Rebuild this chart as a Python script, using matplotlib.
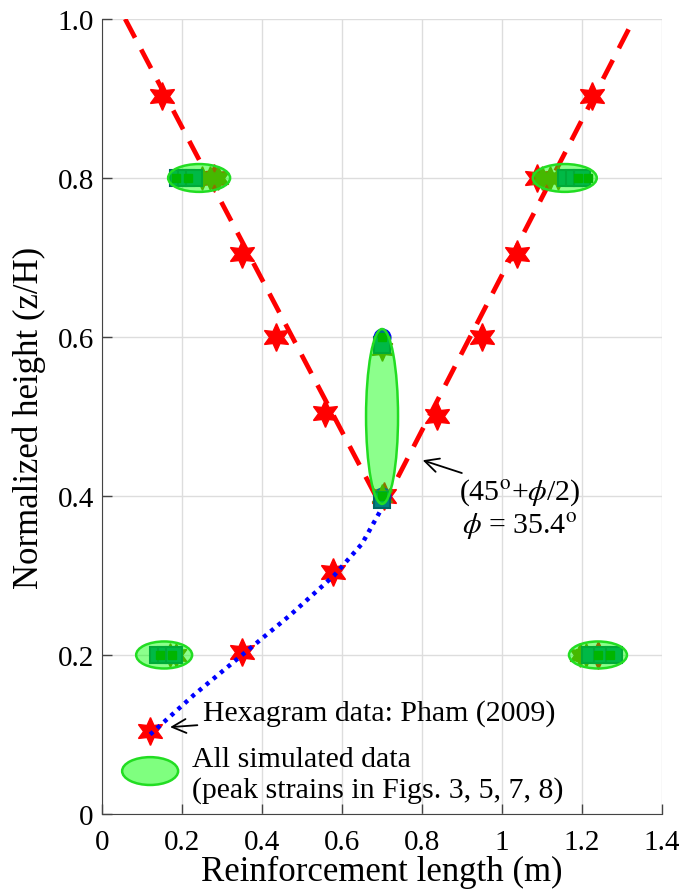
import matplotlib
matplotlib.use("Agg")
import matplotlib.pyplot as plt
from matplotlib.patches import Ellipse
import numpy as np

plt.rcParams['font.family'] = ['Liberation Serif', 'DejaVu Serif']
plt.rcParams['mathtext.fontset'] = 'stix'

# Pham (2009) hexagram data
pham_x = [0.15, 0.35, 0.435, 0.557, 0.705, 0.578, 0.35, 0.12,
          1.225, 1.0375, 0.95, 0.8375, 1.087, 0.28, 1.24]
pham_y = [0.903, 0.704, 0.60, 0.504, 0.40, 0.304, 0.204, 0.104,
          0.903, 0.704, 0.60, 0.50, 0.80, 0.80, 0.20]

# failure surface (dashed red) - left and right branches
left_x = [0.0575, 0.70]
left_y = [1.0, 0.385]
right_x = [0.70, 1.33]
right_y = [0.385, 1.0]

# blue dotted curve
blue_x = [0.12, 0.23, 0.35, 0.47, 0.58, 0.65, 0.70]
blue_y = [0.10, 0.15, 0.20, 0.25, 0.30, 0.34, 0.385]

# simulated data
circ_x = [0.70, 0.70]
circ_y = [0.60, 0.40]
teal_x = [0.19, 0.21, 0.23, 1.16, 1.18, 1.20, 0.14, 0.16, 0.18, 1.22, 1.25, 1.28, 0.70, 0.70]
teal_y = [0.80, 0.80, 0.80, 0.80, 0.80, 0.80, 0.20, 0.20, 0.20, 0.20, 0.20, 0.20, 0.59, 0.395]
green_x = [0.185, 0.215, 1.19, 1.215, 0.145, 0.175, 1.24, 1.27, 0.70, 0.70]
green_y = [0.80, 0.80, 0.80, 0.80, 0.20, 0.20, 0.20, 0.20, 0.60, 0.40]
olive_x = [0.25, 0.27, 0.29, 1.10, 1.12, 1.14, 0.17, 0.185, 1.195, 1.21, 0.70, 0.70]
olive_y = [0.80, 0.80, 0.80, 0.80, 0.80, 0.80, 0.20, 0.20, 0.20, 0.20, 0.585, 0.40]

# ellipses (center x, center y, width, height)
ell_cx = [0.2425, 1.157, 0.155, 1.24, 0.70]
ell_cy = [0.80, 0.80, 0.20, 0.20, 0.50]
ell_w = [0.155, 0.16, 0.14, 0.145, 0.08]
ell_h = [0.035, 0.035, 0.034, 0.034, 0.22]

xticks = [0, 0.2, 0.4, 0.6, 0.8, 1.0, 1.2, 1.4]
yticks = [0, 0.2, 0.4, 0.6, 0.8, 1.0]

fig = plt.figure(figsize=(6.81, 8.95), dpi=100)
ax = fig.add_axes([0.15, 0.0894, 0.822, 0.8883])

hexagram = (6, 1, 0)

ax.plot(left_x, left_y, color='red', lw=3.4, ls=(0, (4.5, 2.8)), zorder=3)
ax.plot(right_x, right_y, color='red', lw=3.4, ls=(0, (4.5, 2.8)), zorder=3)
ax.plot(pham_x, pham_y, ls='none', marker=hexagram, ms=20, color='red', mec='red', zorder=4)
ax.plot(blue_x, blue_y, color='blue', lw=3.2, ls=(0, (0.9, 1.2)), zorder=5)

ax.plot(circ_x, circ_y, ls='none', marker='o', ms=12, color='blue', zorder=5)
ax.plot(olive_x, olive_y, ls='none', marker=hexagram, ms=17, color='#808000', zorder=6)
ax.plot(teal_x, teal_y, ls='none', marker='s', ms=11, mfc='#008080', mec='#006666', mew=1.5, zorder=6)
ax.plot(green_x, green_y, ls='none', marker='s', ms=6, color='#007a00', zorder=7)

for cx, cy, w, h in zip(ell_cx, ell_cy, ell_w, ell_h):
    e = Ellipse((cx, cy), w, h, facecolor=(0.0, 1.0, 0.0, 0.45), edgecolor='#22dd22', lw=1.8, zorder=8)
    ax.add_patch(e)

# legend-like elements
e = Ellipse((0.12, 0.054), 0.14, 0.035, facecolor=(0.0, 1.0, 0.0, 0.5), edgecolor='#22dd22', lw=1.8, zorder=8)
ax.add_patch(e)
fs = 21.5
ax.annotate('Hexagram data: Pham (2009)', xy=(0.163, 0.109), xytext=(0.252, 0.128),
            fontsize=fs, va='center', ha='left',
            arrowprops=dict(arrowstyle='->', color='black', lw=1.3, mutation_scale=25))
ax.text(0.225, 0.069, 'All simulated data', fontsize=fs, va='center', ha='left')
ax.text(0.225, 0.031, '(peak strains in Figs. 3, 5, 7, 8)', fontsize=fs, va='center', ha='left')

ax.annotate(r'(45$^{\mathrm{o}}$+$\phi$/2)', xy=(0.795, 0.446), xytext=(0.893, 0.405),
            fontsize=fs, va='center', ha='left',
            arrowprops=dict(arrowstyle='->', color='black', lw=1.3, mutation_scale=25))
ax.text(0.90, 0.362, r'$\phi$ = 35.4$^{\mathrm{o}}$', fontsize=fs, va='center', ha='left')

ax.set_xlim(0, 1.4)
ax.set_ylim(0, 1.0)
ax.set_xticks(xticks)
ax.set_yticks(yticks)
ax.set_xticklabels(['0', '0.2', '0.4', '0.6', '0.8', '1', '1.2', '1.4'])
ax.set_yticklabels(['0', '0.2', '0.4', '0.6', '0.8', '1.0'])
ax.tick_params(direction='in', labelsize=21, length=7, width=1, color='#444444', pad=6)
ax.tick_params(axis='x', pad=11)
ax.grid(True, color='#dddddd', lw=1)
ax.set_axisbelow(True)
for s in ['top', 'right']:
    ax.spines[s].set_visible(False)
for s in ['left', 'bottom']:
    ax.spines[s].set_color('#444444')
ax.set_xlabel('Reinforcement length (m)', fontsize=25, labelpad=0)
ax.set_ylabel('Normalized height (z/H)', fontsize=25, labelpad=8)

fig.savefig('out.png', dpi=100)
